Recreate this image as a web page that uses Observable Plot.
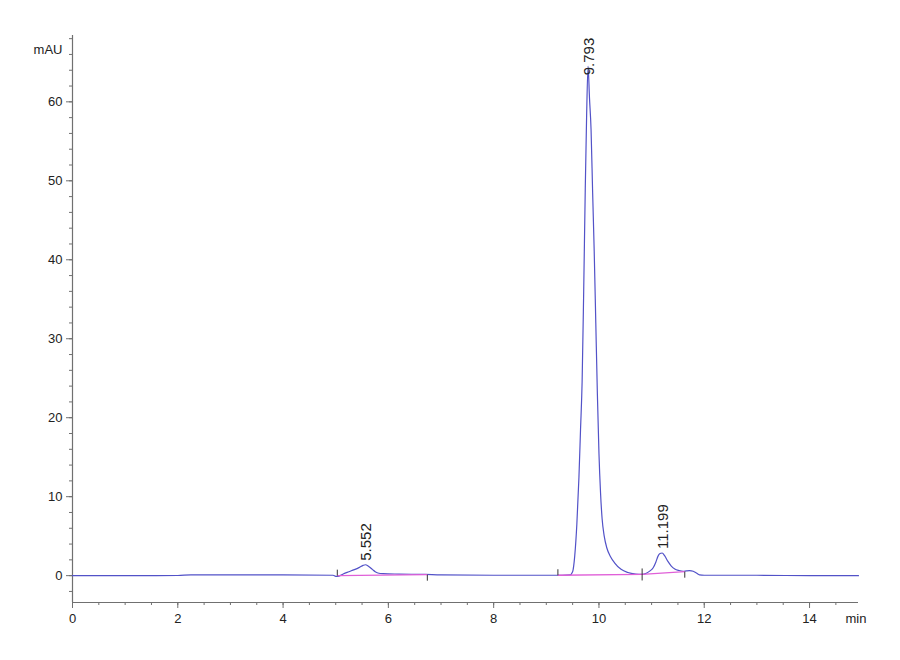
<!DOCTYPE html>
<html><head><meta charset="utf-8">
<script src="https://cdn.jsdelivr.net/npm/d3@7"></script>
<script src="https://cdn.jsdelivr.net/npm/@observablehq/plot@0.6"></script>
<style>body{margin:0;background:#fff}</style>
</head><body><div id="chart"></div>
<script>
// Chromatogram trace (retention time in min, absorbance in mAU)
const time = [0, 1.0, 2.0, 2.25, 2.6, 4.0, 4.95, 5.0, 5.06, 5.15, 5.25, 5.354, 5.45, 5.52, 5.565, 5.62, 5.70, 5.75, 5.80, 5.9, 6.2, 6.7, 7.0, 8.0, 9.0, 9.3, 9.45,
  9.50, 9.54, 9.58, 9.62, 9.65, 9.68, 9.71, 9.74, 9.765, 9.793, 9.82, 9.85, 9.88, 9.91, 9.94, 9.97, 10.00, 10.03, 10.06, 10.10, 10.15, 10.22, 10.30, 10.42, 10.55, 10.70, 10.82,
  10.90, 10.97, 11.03, 11.08, 11.12, 11.16, 11.20, 11.25, 11.31, 11.37, 11.44, 11.52, 11.60, 11.66, 11.72, 11.79, 11.85, 11.91, 12.0, 13.0, 14.0, 14.93];
const signal = [0, 0.0, 0.02, 0.1, 0.1, 0.1, 0.05, -0.1, -0.05, 0.25, 0.5, 0.76, 1.05, 1.3, 1.38, 1.2, 0.76, 0.5, 0.34, 0.25, 0.2, 0.15, 0.1, 0.05, 0.05, 0.05, 0.1,
  0.5, 2.5, 6.5, 12.5, 18.5, 24.5, 36, 49, 58, 64.5, 60.5, 56.5, 48.5, 41, 32, 23, 15.5, 10.5, 7.2, 5.0, 3.5, 2.4, 1.6, 0.8, 0.4, 0.2, 0.15,
  0.3, 0.6, 1.0, 1.7, 2.44, 2.8, 2.87, 2.5, 1.8, 1.25, 0.85, 0.65, 0.55, 0.6, 0.63, 0.55, 0.34, 0.1, 0.05, 0.05, 0.0, 0.0];

// Integrated peaks
const peakTimes = [5.552, 9.793, 11.199];
const peakHeights = [1.38, 64.5, 2.87];

// Integration baselines
const baseStartT = [5.03, 9.22, 10.82];
const baseStartV = [0.0, 0.05, 0.15];
const baseEndT = [6.74, 10.82, 11.63];
const baseEndV = [0.12, 0.15, 0.5];

// Peak boundary marks
const markT = [5.03, 6.74, 9.22, 10.82, 11.63];
const markV = [0.0, 0.12, 0.05, 0.15, 0.5];
const markKind = ["start", "end", "start", "both", "end"];

// Axes
const xMajorTicks = [0, 2, 4, 6, 8, 10, 12, 14];
const yMajorTicks = [0, 10, 20, 30, 40, 50, 60];
const xMinorTicks = d3.range(0, 14.51, 0.5);
const yMinorTicks = d3.range(-2, 68.1, 2);
const xDomain = [0, 14.93];
const yDomain = [-3.4, 68.4];
const xUnit = "min";
const yUnit = "mAU";

const trace = time.map((t, i) => ({t, v: signal[i]}));
const peaks = peakTimes.map((t, i) => ({t, v: peakHeights[i], label: d3.format(".3f")(t)}));
const bases = baseStartT.map((t, i) => ({x1: t, y1: baseStartV[i], x2: baseEndT[i], y2: baseEndV[i]}));
const marks = markT.map((t, i) => ({t, v: markV[i], kind: markKind[i]}));

const symUp = {draw(ctx) { ctx.moveTo(0, 0); ctx.lineTo(0, -6); }};
const symDown = {draw(ctx) { ctx.moveTo(0, 0); ctx.lineTo(0, 6); }};
const symBoth = {draw(ctx) { ctx.moveTo(0, -6); ctx.lineTo(0, 6); }};

const axisColor = "#707070";
const textColor = "#222";
const sans = "'Liberation Sans', Arial, sans-serif";

const chart = Plot.plot({
  width: 900,
  height: 660,
  marginLeft: 72,
  marginRight: 42,
  marginTop: 35,
  marginBottom: 58,
  style: {fontFamily: sans, background: "#fff", color: textColor},
  x: {domain: xDomain},
  y: {domain: yDomain},
  marks: [
    Plot.ruleX([xDomain[0]], {stroke: axisColor, strokeWidth: 1.2}),
    Plot.ruleY([yDomain[0]], {stroke: axisColor, strokeWidth: 1.2}),
    Plot.axisX(xMajorTicks, {anchor: "bottom", tickSize: 6, tickPadding: 5, fontSize: 13, stroke: axisColor, fill: textColor, label: null}),
    Plot.axisX(xMinorTicks, {anchor: "bottom", tickSize: 3, tickFormat: () => "", stroke: axisColor, label: null}),
    Plot.axisY(yMajorTicks, {anchor: "left", tickSize: 6, tickPadding: 4, fontSize: 13, stroke: axisColor, fill: textColor, label: null}),
    Plot.axisY(yMinorTicks, {anchor: "left", tickSize: 3, tickFormat: () => "", stroke: axisColor, label: null}),
    Plot.text([yUnit], {frameAnchor: "top-left", dx: -10, dy: 9, textAnchor: "end", fontSize: 13, fill: textColor}),
    Plot.text([xUnit], {frameAnchor: "bottom-right", dx: -13, dy: 20, textAnchor: "start", fontSize: 13, fill: textColor}),
    Plot.line(trace, {x: "t", y: "v", stroke: "#5252c8", strokeWidth: 1.2, curve: "monotone-x"}),
    Plot.link(bases, {x1: "x1", y1: "y1", x2: "x2", y2: "y2", stroke: "#e060d8", strokeWidth: 1.3}),
    Plot.dot(marks.filter(d => d.kind === "start"), {x: "t", y: "v", symbol: symUp, stroke: "#333", strokeWidth: 1, fill: "none"}),
    Plot.dot(marks.filter(d => d.kind === "end"), {x: "t", y: "v", symbol: symDown, stroke: "#333", strokeWidth: 1, fill: "none"}),
    Plot.dot(marks.filter(d => d.kind === "both"), {x: "t", y: "v", symbol: symBoth, stroke: "#333", strokeWidth: 1, fill: "none"}),
    Plot.text(peaks.filter(d => d.v < 30), {x: "t", y: "v", text: "label", rotate: -90, textAnchor: "start", dy: -4, dx: 1, fontSize: 15, fill: textColor}),
    Plot.text(peaks.filter(d => d.v >= 30), {x: "t", y: "v", text: "label", rotate: -90, textAnchor: "start", dy: 9, dx: 1, fontSize: 15, fill: textColor})
  ]
});
document.getElementById("chart").appendChild(chart);
</script>
</body></html>
